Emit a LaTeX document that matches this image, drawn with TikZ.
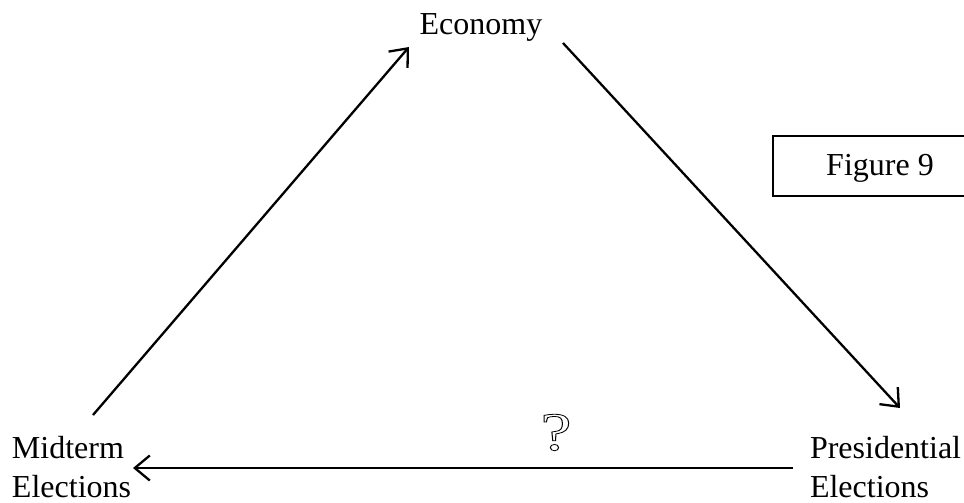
\documentclass[tikz,border=0pt]{standalone}
\usepackage{fontspec}
\setmainfont{Liberation Serif}
\usetikzlibrary{arrows.meta}
\tikzset{
  lbl/.style={inner sep=0pt, outer sep=0pt, font=\fontsize{32}{39}\selectfont, align=left},
  conn/.style={line width=2.3pt, -{Straight Barb[length=15pt, width=25pt, line width=2.3pt]}},
  boxline/.style={line width=1.2pt}
}
\begin{document}
\begin{tikzpicture}[x=1pt,y=-1pt]
\useasboundingbox (0,0) rectangle (964,503);
% labels
\node[lbl, anchor=base] (eco) at (481,35) {Economy};
\node[lbl, anchor=base west] (mid) at (12,497) {Midterm\\Elections};
\node[lbl, anchor=base west] (pres) at (810,497) {Presidential\\Elections};
\node[lbl, anchor=base] (fig) at (880,175) {Figure 9};
\draw[boxline] (773,136) rectangle (968,196);
\node[inner sep=0pt, anchor=base, xscale=1.3, font=\fontsize{54}{54}\selectfont] (q) at (556,450)
  {\special{pdf:literal direct 1 Tr 0.8 w}?\special{pdf:literal direct 0 Tr}};
% connector ends
\coordinate (a1) at (93,415);
\coordinate (a2) at (409,47);
\coordinate (b1) at (563,43);
\coordinate (b2) at (900,408);
\coordinate (c1) at (793,468);
\coordinate (c2) at (133,468);
\draw[conn] (a1) -- (a2);
\draw[conn] (b1) -- (b2);
\draw[conn] (c1) -- (c2);
\end{tikzpicture}
\end{document}
